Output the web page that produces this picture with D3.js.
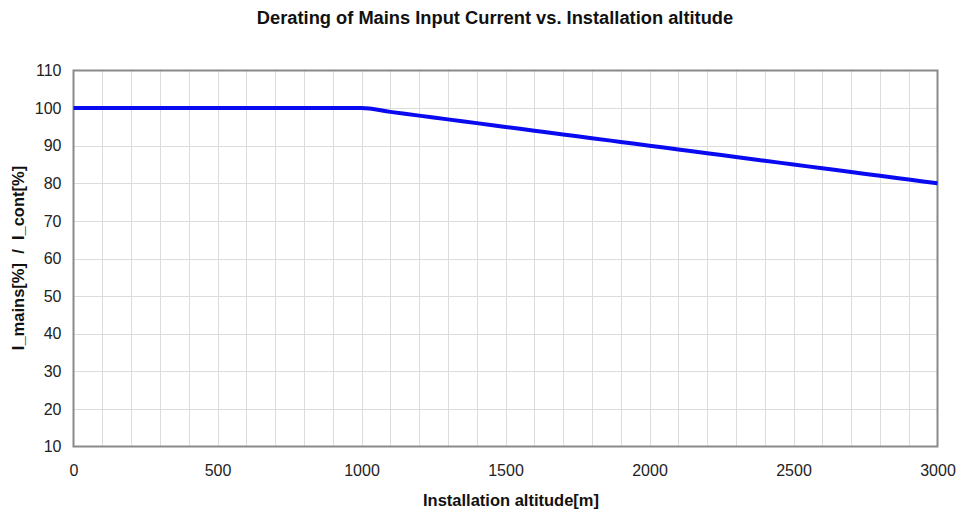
<!DOCTYPE html>
<html><head><meta charset="utf-8">
<script src="https://cdn.jsdelivr.net/npm/d3@7"></script>
<style>body{margin:0;background:#fff;} svg{display:block;font-family:"Liberation Sans",Arial,sans-serif;}</style>
</head><body>
<script>
const altitudes = [0,100,200,300,400,500,600,700,800,900,1000,1100,1200,1300,1400,1500,1600,1700,1800,1900,2000,2100,2200,2300,2400,2500,2600,2700,2800,2900,3000];
const currentPct = [100,100,100,100,100,100,100,100,100,100,100,99,98,97,96,95,94,93,92,91,90,89,88,87,86,85,84,83,82,81,80];
const xTicks = [0,500,1000,1500,2000,2500,3000];
const yTicks = [10,20,30,40,50,60,70,80,90,100,110];

const W=957,H=509;
const m={left:73.5,right:W-937.5,top:70.5,bottom:H-446.5};
const svg=d3.select("body").append("svg").attr("width",W).attr("height",H);
const x=d3.scaleLinear().domain([0,3000]).range([m.left,W-m.right]);
const y=d3.scaleLinear().domain([10,110]).range([H-m.bottom,m.top]);

// grid
const g=svg.append("g");
g.selectAll(".vg").data(d3.range(100,3000,100)).join("line")
 .attr("x1",d=>Math.round(x(d))+0.5).attr("x2",d=>Math.round(x(d))+0.5)
 .attr("y1",y(110)).attr("y2",y(10)).attr("stroke","#dcdcdc").attr("stroke-width",1);
g.selectAll(".hg").data(yTicks.slice(1,-1)).join("line")
 .attr("x1",x(0)).attr("x2",x(3000))
 .attr("y1",d=>Math.round(y(d))+0.5).attr("y2",d=>Math.round(y(d))+0.5).attr("stroke","#dcdcdc").attr("stroke-width",1);

// frame
svg.append("rect").attr("x",x(0)).attr("y",y(110)).attr("width",x(3000)-x(0)).attr("height",y(10)-y(110))
 .attr("fill","none").attr("stroke","#8a8a8a").attr("stroke-width",2);

// axes
const xa=svg.append("g").attr("transform",`translate(0,${y(10)})`)
 .call(d3.axisBottom(x).tickValues(xTicks).tickSize(0).tickPadding(18).tickFormat(d3.format("d")));
const ya=svg.append("g").attr("transform",`translate(${x(0)},0)`)
 .call(d3.axisLeft(y).tickValues(yTicks).tickSize(0).tickPadding(12));
[xa,ya].forEach(a=>{a.select(".domain").remove();a.selectAll("text").attr("font-size",16).attr("fill","#222").attr("font-family","Liberation Sans, Arial, sans-serif");});

// line
const line=d3.line().x((d,i)=>x(altitudes[i])).y(d=>y(d)).curve(d3.curveMonotoneX);
svg.append("path").datum(currentPct).attr("d",line).attr("fill","none").attr("stroke","#0a0af0").attr("stroke-width",4).attr("stroke-linejoin","round");

// titles
svg.append("text").attr("x",495).attr("y",24).attr("text-anchor","middle").attr("font-weight","bold").attr("font-size",18.3).attr("fill","#111")
 .text("Derating of Mains Input Current vs. Installation altitude");
svg.append("text").attr("x",511).attr("y",506).attr("text-anchor","middle").attr("font-weight","bold").attr("font-size",16.5).attr("fill","#111")
 .text("Installation altitude[m]");
svg.append("text").attr("transform","translate(24,258) rotate(-90)").attr("text-anchor","middle").attr("font-weight","bold").attr("font-size",16.5).attr("fill","#111")
 .style("white-space","pre")
 .text("I_mains[%]  /  I_cont[%]");
</script>
</body></html>
